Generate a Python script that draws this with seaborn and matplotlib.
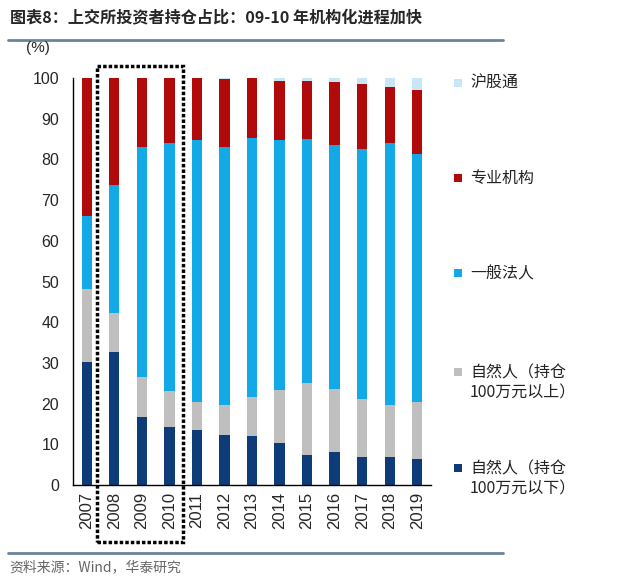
import numpy as np
import pandas as pd
import matplotlib
matplotlib.use("Agg")
import matplotlib.pyplot as plt
from matplotlib.patches import Rectangle
from matplotlib.lines import Line2D
import seaborn as sns

# ---------------------------------------------------------------------------
# data (% of holdings, SSE investors)
# ---------------------------------------------------------------------------
years = ["2007", "2008", "2009", "2010", "2011", "2012", "2013",
         "2014", "2015", "2016", "2017", "2018", "2019"]
retail_small = [30.1, 32.6, 16.8, 14.3, 13.4, 12.2, 12.1, 10.3, 7.4, 8.1, 7.0, 6.8, 6.4]
retail_large = [18.0, 9.6, 9.7, 8.8, 7.0, 7.5, 9.6, 13.1, 17.7, 15.5, 14.1, 12.8, 14.0]
corporate = [18.0, 31.5, 56.5, 60.9, 64.3, 63.3, 63.6, 61.4, 59.8, 59.9, 61.5, 64.4, 60.9]
institution = [33.9, 26.3, 17.0, 16.0, 15.3, 16.8, 14.7, 14.5, 14.4, 15.5, 15.9, 13.9, 15.7]
hk_connect = [0.0, 0.0, 0.0, 0.0, 0.0, 0.2, 0.0, 0.7, 0.7, 1.0, 1.5, 2.1, 3.0]

series = [
    ("自然人（持仓\n100万元以下）", retail_small, "#0E3C78"),
    ("自然人（持仓\n100万元以上）", retail_large, "#BFBFBF"),
    ("一般法人", corporate, "#12A9E6"),
    ("专业机构", institution, "#B00A0A"),
    ("沪股通", hk_connect, "#C8E6F5"),
]

sns.set_style("white")
plt.rcParams["font.family"] = ["Liberation Sans", "Noto Sans CJK SC", "DejaVu Sans"]

fig = plt.figure(figsize=(6.21, 5.81), dpi=100)
ax = fig.add_axes([73 / 621, 1 - 485 / 581, 358 / 621, 407 / 581])

# stacked bars: draw cumulative totals from the top layer down
cum = np.cumsum([np.array(s[1]) for s in series], axis=0)
for i in range(len(series) - 1, -1, -1):
    df = pd.DataFrame({"year": years, "value": cum[i]})
    sns.barplot(data=df, x="year", y="value", color=series[i][2], width=0.375,
                saturation=1, ax=ax, linewidth=0)

ax.set_xlim(-0.5, len(years) - 0.5)
ax.set_ylim(0, 100)
ax.set_yticks(np.arange(0, 101, 10))
ax.tick_params(axis="y", labelsize=11.5, length=4, width=1, color="black", direction="out", pad=6)
ax.set_xticks(np.arange(-0.5, len(years), 1))
ax.set_xticklabels([""] * (len(years) + 1))
ax.set_xticks(np.arange(len(years)), minor=True)
ax.set_xticklabels(years, minor=True, rotation=90, fontsize=12)
ax.tick_params(axis="x", which="major", length=5, width=1, color="black", direction="out")
ax.tick_params(axis="x", which="minor", length=0, pad=5)
ax.set_xlabel("")
ax.set_ylabel("")
for s in ["top", "right"]:
    ax.spines[s].set_visible(False)
for s in ["left", "bottom"]:
    ax.spines[s].set_color("black")
    ax.spines[s].set_linewidth(1)

# dotted highlight box around 2008-2010
box = Rectangle((0.36, -14), 3.14, 117, fill=False, linestyle=(0, (1, 0.6)),
                linewidth=2.5, edgecolor="black", clip_on=False, zorder=5)
ax.add_patch(box)

# legend on the right, drawn manually to keep the wide spacing
leg_y = [83, 178, 273, 372, 468]
for (label, _, color), y in zip(series[::-1], leg_y):
    fig.patches.append(Rectangle((454 / 621, 1 - (y + 4) / 581), 8 / 621, 8 / 581,
                                 transform=fig.transFigure, facecolor=color,
                                 edgecolor="none"))
    fig.text(470 / 621, 1 - (y - 8) / 581, label, fontsize=11.5, va="top", ha="left",
             linespacing=1.3, family=["Noto Sans CJK SC", "DejaVu Sans"], color="#222222")

fig.text(38 / 621, 1 - 48 / 581, "(%)", fontsize=11, va="center", ha="center")

# title and source
fig.text(10 / 621, 1 - 17 / 581, "图表8：上交所投资者持仓占比：09-10 年机构化进程加快",
         fontsize=11.6, fontweight="bold", va="center", ha="left",
         family=["Noto Sans CJK SC", "DejaVu Sans"])
fig.add_artist(Line2D([8 / 621, 503 / 621], [1 - 40 / 581, 1 - 40 / 581],
                      color="#6A8496", linewidth=2, transform=fig.transFigure))
fig.add_artist(Line2D([8 / 621, 503 / 621], [1 - 553 / 581, 1 - 553 / 581],
                      color="#6A8496", linewidth=2, transform=fig.transFigure))
fig.text(9 / 621, 1 - 567 / 581, "资料来源：Wind，华泰研究", fontsize=10, color="#666666",
         va="center", ha="left", family=["Noto Sans CJK SC", "DejaVu Sans"])

fig.savefig("out.png", dpi=100)
plt.close(fig)
